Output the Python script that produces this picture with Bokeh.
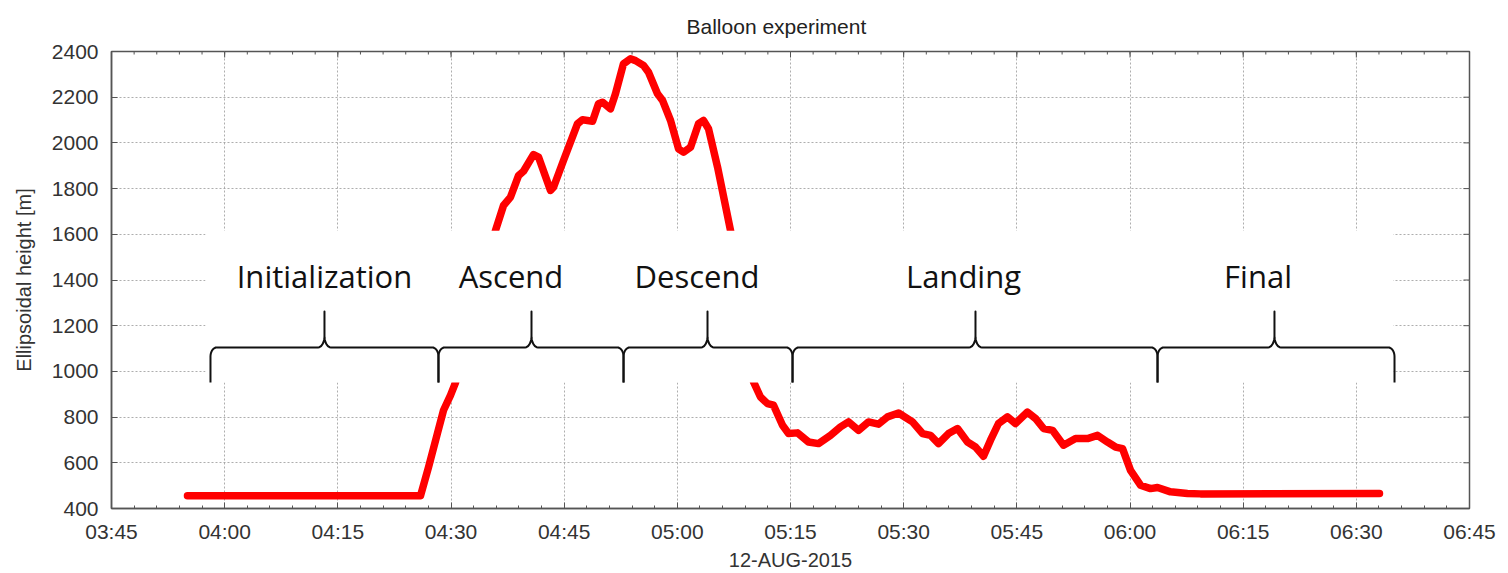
import numpy as np
import pandas as pd
from bokeh.plotting import figure
from bokeh.models import FixedTicker, DatetimeTickFormatter, ColumnDataSource, Range1d
from bokeh.core.properties import value
from bokeh.embed import file_html
from bokeh.resources import INLINE

# ---------------- data ----------------
start = pd.Timestamp("2015-08-12 03:45:00")
end = pd.Timestamp("2015-08-12 06:45:00")

# elapsed minutes after 03:45 and ellipsoidal height [m]
elapsed_min = [10.07, 40.96, 42.02, 43.21, 44.01, 44.93, 45.60, 50.90, 51.96, 52.89,
               53.95, 54.61, 55.94, 56.60, 58.19, 58.59, 59.91, 61.77, 62.43, 63.76,
               64.55, 65.08, 66.14, 66.80, 67.86, 68.79, 69.46, 70.52, 71.18, 72.37,
               73.04, 74.10, 75.16, 75.82, 76.75, 77.81, 78.47, 79.13, 80.33, 82.05,
               85.10, 86.02, 86.95, 87.75, 88.94, 89.74, 90.93, 92.39, 93.71, 95.30,
               96.63, 97.69, 99.02, 100.34, 101.67, 102.86, 104.32, 106.17, 107.50, 108.56,
               109.62, 110.94, 112.14, 113.46, 114.52, 115.58, 116.51, 117.57, 118.76, 119.82,
               121.41, 122.47, 123.54, 124.73, 126.19, 127.78, 129.37, 130.69, 132.02, 133.08,
               134.01, 135.07, 136.39, 137.72, 138.65, 140.37, 142.62, 144.34, 168.07]
height_m = [456, 456, 581, 730, 830, 895, 951, 1617, 1726, 1763,
            1857, 1876, 1949, 1938, 1792, 1806, 1923, 2084, 2101, 2095,
            2171, 2178, 2149, 2215, 2346, 2368, 2360, 2339, 2309, 2215,
            2186, 2098, 1974, 1959, 1981, 2084, 2098, 2062, 1894, 1617,
            954, 888, 859, 852, 764, 728, 731, 691, 684, 720,
            757, 779, 742, 779, 769, 801, 818, 779, 728, 720,
            684, 728, 750, 691, 669, 629, 699, 772, 801, 772,
            822, 794, 750, 742, 677, 706, 706, 720, 691, 669,
            662, 567, 502, 487, 492, 473, 466, 464, 466]

phase_names = ["Initialization", "Ascend", "Descend", "Landing", "Final"]
phase_bounds_min = [13.12, 43.34, 67.87, 90.27, 138.65, 170.06]   # brace ends
phase_tip_min = [28.23, 55.67, 79.00, 114.52, 154.15]              # brace tips
phase_label_min = [28.23, 52.95, 77.61, 112.93, 151.97]            # label centres

brace_base_m = 1105
brace_tip_m = 1262
brace_end_m = 951
label_base_m = 1416
panel_x_min = [12.46, 169.9]
panel_y_m = [951, 1616]

title_text = "Balloon experiment"

x_tick_step_min = 15
x_minor_step_min = 3
y_ticks = list(range(400, 2401, 200))

# ---------------- helpers ----------------
t0_ms = start.value / 1e6
def to_ms(m):
    return t0_ms + np.asarray(m, dtype=float) * 60000.0

def brace_path(s, e, m, yb, yt, yd, rx, ry_end, ry_tip, n=10):
    xs, ys = [s], [yd]
    th = np.linspace(0, np.pi / 2, n)
    xs += list(s + rx - rx * np.cos(th)); ys += list(yb - ry_end + ry_end * np.sin(th))
    xs += list(m - rx + rx * np.sin(th)); ys += list(yb + ry_tip - ry_tip * np.cos(th))
    xs.append(m); ys.append(yt)
    th2 = th[::-1]
    xs += list(m + rx - rx * np.sin(th2)); ys += list(yb + ry_tip - ry_tip * np.cos(th2))
    xs += list(e - rx + rx * np.cos(th2)); ys += list(yb - ry_end + ry_end * np.sin(th2))
    xs.append(e); ys.append(yd)
    return xs, ys

# ---------------- figure ----------------
FONT = "Liberation Sans"
AX_COL = "#555555"
LBL_COL = "#333333"

W, H = 1508, 573
BL, BR, BT, BB = 111, 39, 51, 65
p = figure(width=W, height=H, x_axis_type="datetime",
           x_range=Range1d(start, end), y_range=Range1d(400, 2400),
           output_backend="svg", toolbar_location=None,
           min_border_left=BL, min_border_right=BR, min_border_top=BT, min_border_bottom=BB)
p.background_fill_color = "white"
p.border_fill_color = "white"
p.outline_line_color = AX_COL
p.outline_line_width = 1.5

total_min = (end - start).total_seconds() / 60
major_min = np.arange(0, total_min + 0.1, x_tick_step_min)
minor_min = np.arange(0, total_min + 0.1, x_minor_step_min)
xticker = FixedTicker(ticks=list(to_ms(major_min)), minor_ticks=list(to_ms(minor_min)))
yticker = FixedTicker(ticks=y_ticks, minor_ticks=[])
fmt = DatetimeTickFormatter(minutes="%H:%M", hourmin="%H:%M", hours="%H:%M", minsec="%H:%M")

def style_axis(ax):
    ax.axis_line_color = AX_COL
    ax.axis_line_width = 1.5
    ax.major_tick_in = 6
    ax.major_tick_out = 0
    ax.minor_tick_in = 3
    ax.minor_tick_out = 0
    ax.major_tick_line_color = AX_COL
    ax.minor_tick_line_color = AX_COL
    ax.major_label_text_font = FONT
    ax.major_label_text_color = LBL_COL
    ax.major_label_text_font_size = "21px"
    ax.axis_label_text_font = FONT
    ax.axis_label_text_font_size = "20px"
    ax.axis_label_text_font_style = "normal"
    ax.axis_label_text_color = LBL_COL

xa = p.xaxis[0]
xa.ticker = xticker
xa.formatter = fmt
style_axis(xa)
xa.major_label_standoff = 11
xa.axis_label = "12-AUG-2015"
xa.axis_label_standoff = 3

ya = p.yaxis[0]
ya.ticker = yticker
style_axis(ya)
ya.major_label_standoff = 13
ya.axis_label = "Ellipsoidal height [m]"
ya.axis_label_standoff = 14

# mirrored inward ticks on the top and right frame edges
frame_w = W - BL - BR
frame_h = H - BT - BB
px_x = total_min / frame_w          # minutes per pixel
px_y = 2000.0 / frame_h             # metres per pixel
p.segment(x0=to_ms(major_min), x1=to_ms(major_min), y0=2400, y1=2400 - 6 * px_y,
          line_color=AX_COL, line_width=1)
p.segment(x0=to_ms(minor_min), x1=to_ms(minor_min), y0=2400, y1=2400 - 3 * px_y,
          line_color=AX_COL, line_width=1)
p.segment(x0=to_ms(total_min), x1=to_ms(total_min - 6 * px_x), y0=y_ticks, y1=y_ticks,
          line_color=AX_COL, line_width=1)

for g in (p.xgrid[0], p.ygrid[0]):
    g.grid_line_color = "#9a9a9a"
    g.grid_line_dash = "2 2"
    g.grid_line_width = 1
    g.grid_line_alpha = 0.8
p.xgrid[0].ticker = xticker
p.ygrid[0].ticker = yticker

p.title.text = title_text
p.title.text_font = FONT
p.title.text_font_size = "21px"
p.title.text_font_style = "normal"
p.title.text_color = "#222222"
p.title.align = "left"
p.title.offset = 575
p.title.vertical_align = "top"
p.title.standoff = 23

# height line
src = ColumnDataSource(dict(t=to_ms(elapsed_min), h=height_m))
p.line("t", "h", source=src, line_color="#ff0000", line_width=7.5,
       line_join="round", line_cap="round")

# white annotation panel
p.quad(left=[to_ms(panel_x_min[0])], right=[to_ms(panel_x_min[1])],
       bottom=[panel_y_m[0]], top=[panel_y_m[1]], fill_color="white", line_color=None)

# braces
rx = 0.85
bx, by = [], []
for i in range(len(phase_names)):
    xs, ys = brace_path(phase_bounds_min[i], phase_bounds_min[i + 1], phase_tip_min[i],
                        brace_base_m, brace_tip_m, brace_end_m, rx, 40, 50)
    bx.append(list(to_ms(xs))); by.append(ys)
p.multi_line(bx, by, line_color="#111111", line_width=2, line_join="round")

p.text(x=to_ms(phase_label_min), y=[label_base_m] * len(phase_names), text=phase_names,
       text_font=value("Open Sans"), text_font_size="31px", text_color="#111111",
       text_align="center", text_baseline="alphabetic")

open("out.html", "w").write(file_html(p, INLINE))
